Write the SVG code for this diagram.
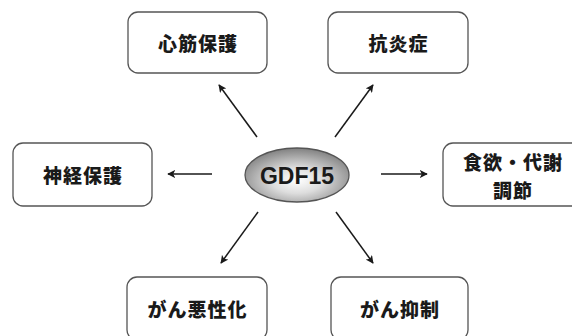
<svg xmlns="http://www.w3.org/2000/svg" width="572" height="336" viewBox="0 0 572 336">
  <defs>
    <style>
      .box { fill: #ffffff; stroke: #555555; stroke-width: 1.3; }
      .lbl { font-family: "Noto Sans CJK JP", "Liberation Sans", sans-serif; font-weight: 900; font-size: 19px; letter-spacing: 1px; fill: #1a1a1a; text-anchor: middle; dominant-baseline: central; }
      .conn { stroke: #1a1a1a; stroke-width: 1.5; fill: none; marker-end: url(#arr); }
    </style>
    <marker id="arr" viewBox="0 0 10 10" refX="9" refY="5" markerWidth="8" markerHeight="8" markerUnits="userSpaceOnUse" orient="auto">
      <path d="M0,0 L10,5 L0,10 L2.5,5 z" fill="#1a1a1a"/>
    </marker>
    <radialGradient id="eg" cx="0.5" cy="0.6" r="0.6">
      <stop offset="0" stop-color="#ffffff"/>
      <stop offset="0.4" stop-color="#dddddd"/>
      <stop offset="1" stop-color="#808080"/>
    </radialGradient>
  </defs>
  <rect width="572" height="336" fill="#ffffff"/>
  <g id="connectors">
    <line class="conn" x1="257" y1="137" x2="219" y2="85"/>
    <line class="conn" x1="335" y1="137" x2="373" y2="85"/>
    <line class="conn" x1="212" y1="174" x2="168" y2="174"/>
    <line class="conn" x1="381" y1="174" x2="427" y2="174"/>
    <line class="conn" x1="258" y1="212" x2="221" y2="263"/>
    <line class="conn" x1="336" y1="212" x2="373" y2="263"/>
  </g>
  <g id="n-center">
    <ellipse cx="297" cy="175" rx="52" ry="27" fill="url(#eg)" stroke="#555555" stroke-width="1.3"/>
    <text x="297" y="176" font-family="'Liberation Sans', Arial, sans-serif" font-weight="bold" font-size="23" fill="#1a1a1a" text-anchor="middle" dominant-baseline="central">GDF15</text>
  </g>
  <g id="n-cardio">
    <rect class="box" x="128" y="12" width="139" height="61" rx="10"/>
    <text class="lbl" x="198" y="42.5">心筋保護</text>
  </g>
  <g id="n-antiinflam">
    <rect class="box" x="328" y="12" width="140" height="61" rx="10"/>
    <text class="lbl" x="398.5" y="42.5">抗炎症</text>
  </g>
  <g id="n-neuro">
    <rect class="box" x="13" y="143" width="139" height="63" rx="10"/>
    <text class="lbl" x="83" y="174.5">神経保護</text>
  </g>
  <g id="n-appetite">
    <rect class="box" x="443" y="143" width="139" height="63" rx="10"/>
    <text class="lbl" x="513" y="161">食欲・代謝</text>
    <text class="lbl" x="513" y="189">調節</text>
  </g>
  <g id="n-malignancy">
    <rect class="box" x="127" y="277" width="140" height="63" rx="10"/>
    <text class="lbl" x="197.5" y="308">がん悪性化</text>
  </g>
  <g id="n-suppression">
    <rect class="box" x="331" y="277" width="137" height="63" rx="10"/>
    <text class="lbl" x="400" y="308">がん抑制</text>
  </g>
</svg>
